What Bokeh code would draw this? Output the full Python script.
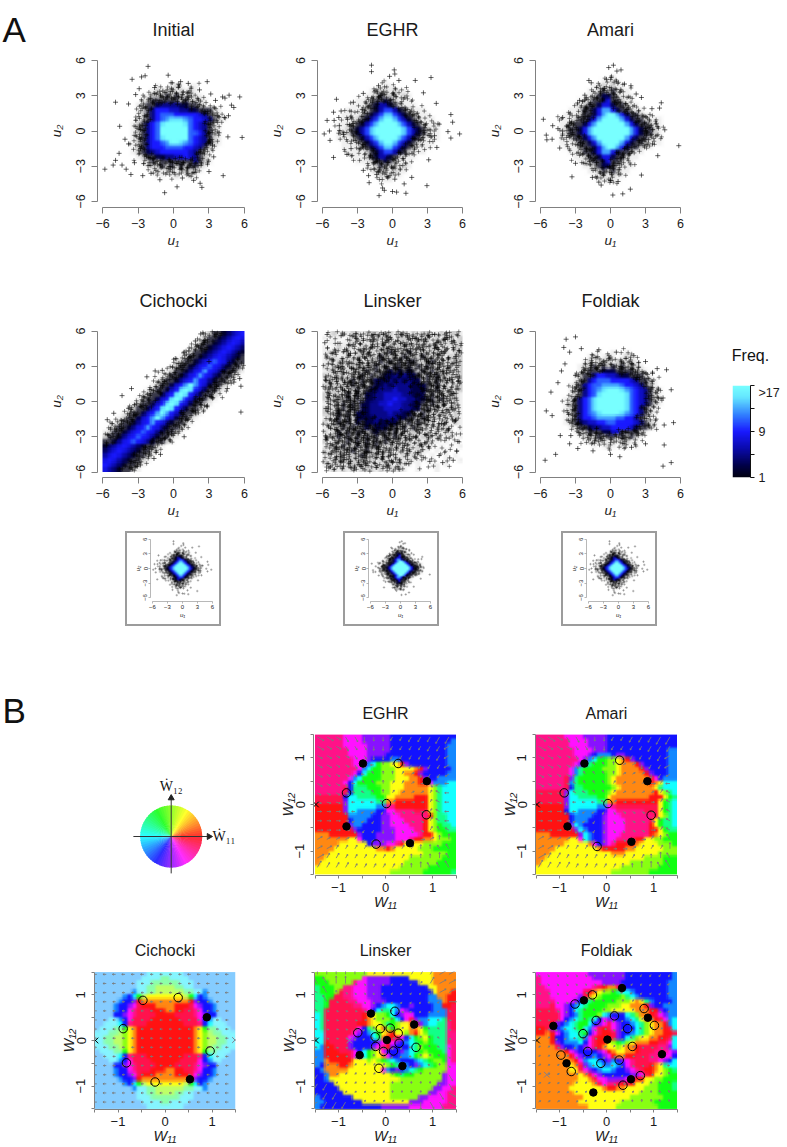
import colorsys
import numpy as np
from bokeh.embed import file_html
from bokeh.resources import INLINE
from bokeh.plotting import figure
from bokeh.layouts import row, column
from bokeh.models import Range1d, FixedTicker, Spacer, LinearColorMapper
from bokeh.core.properties import value

SANS = "Liberation Sans"
TITLES_A = ["Initial", "EGHR", "Amari", "Cichocki", "Linsker", "Foldiak"]
TITLES_B = ["EGHR", "Amari", "Cichocki", "Linsker", "Foldiak"]
U_TICKS = [-6, -3, 0, 3, 6]
W_TICKS = [-1.5, -1, -0.5, 0, 0.5, 1, 1.5]
FREQ_TICKS = [1, 5, 9, 13, 17]
FREQ_LABELS = {1: "1", 5: "", 9: "9", 13: "", 17: ">17"}
FREQ_STOPS = [1, 3, 6, 9, 12, 15, 17]
FREQ_RGB = [(0, 0, 16), (0, 0, 70), (10, 10, 170), (25, 25, 255), (50, 130, 255), (100, 230, 255), (120, 255, 255)]

# estimated density, one char per 0.4 x 0.4 cell, top row first
# '.' ':' sparse marks, 1-9 a-h frequency 1..17
dens_initial = [
"", "", "", "", "",
"           .  .:. ..",
"          .:.::.:.:.",
"         .:::1:1:::..",
"        .:111111:1:::.",
"       .:11355553311:.",
"       .:15999775533111:.",
"       .:159bbb99999751:.",
"       .:159bdfffdb99751:.",
"      .:159bfhhhhfb9751:.",
"      .:159bhhhhhhb9751:.",
"      .:159bhhhhhhbb951:.",
"      .:159bfhhhhhb9751:.",
"      .:1599bdhhfdb9751:.",
"      .:15999bbbb99751:.",
"      .:1357999999751:.",
"       .:113355779751:.",
"        .:1:111111151:.",
"         .::1:1:1:11:.",
"          .:.::.:::..",
"           .. .: .:.",
"", "", "", "", "",
]
dens_eghr = [
"", "", "", "",
"             .",
"            ...",
"          .:::.:..",
"         ..:1:::.:.",
"       ...:1121:...",
"      ...:126621:...",
"     ....:126aa621:...",
"    ....:126aeea621:...",
"    ...:126aehhea621:...",
"   ...:126aehhhhea621:...",
"   ..:126aehhhhhhea621:..",
"   ..:126aehhhhhhea621:..",
"   ...:126aehhhhea621:...",
"    ...:126aehhea621:...",
"    ....:126aeea621:...",
"     ....:126aa621:...",
"      ...:126621:...",
"       ...:1121:...",
"         ..:1:::.:.",
"          .:::.:..",
"           .:.:..",
"            ...",
"", "", "", "",
]
dens_amari = [
"", "", "",
"               .",
"             ..:.",
"           ..:.:..",
"          ..:1:1:..",
"         ..:1331:...",
"        ..:113811:..",
"       ..:11388311:..",
"      ..:1138dd8311:..",
"     ...:1138dhhd8311:..",
"    ...:1138dhhhhd8311:...",
"    ..:1138dhhhhhhd8311:..",
"    .:1138dhhhhhhhhd8311:.",
"    .:1138dhhhhhhhhd8311:.",
"    ..:1138dhhhhhhd8311:..",
"    ...:1138dhhhhd8311:...",
"     ...:1138dhhd8311:..",
"      ..:1138dd8311:..",
"       ..:11388311:..",
"        ..:113811:..",
"         ..:1331:...",
"          ..:1:1:..",
"           ..:.:..",
"            ..:..",
"", "", "", "",
]
dens_cichocki = [
"                     .:1124689",
"                    .:11246898",
"                   .:112468986",
"                  .:1124689864",
"                 .:11246898642",
"                .:112468986421",
"               .:112589b985211",
"              .:112589b985211:",
"             .:112589d985211:.",
"            .:112589d985211:.",
"           .:112589d985211:.",
"          .:11379dhd97311:.",
"         .:11379fhf97311:.",
"        .:11379fhf97311:.",
"       .:11379fhf97311:.",
"      .:11379fhf97311:.",
"     .:11379fhf97311:.",
"    .:11379dhd97311:.",
"   .:11379dhd97311:.",
"  .:112589d985211:.",
" .:112589d985211:.",
".:112589b985211:.",
":112589b985211:.",
"112589b985211:.",
"24689864211:.",
"4689864211:.",
"689864211:.",
"89864211:.",
"9864211:.",
"864211:.",
]
dens_linsker = [
" .:.:.::.:::.::.::.:.::..:.::.",
". .. ..:..:.:::.:::.:::.:.::.:",
" .. ..:.:.::.:::::.::::.::.:.:",
". .:.:..::.:::::::::.::::.:.::",
".:...:.::::.::1:::1:::.::::.::",
"..:..:.:::::1::::1:::1::::.:.:",
".:.:.:::.:::1:1:1:11:::1::::.:",
":.:::.:::::1:1:11:1:1:1:::.:.:",
".::.:::::1:1:1313131:1:1::::.:",
":.:::.::1:1:133535331:1:1:::.:",
".:::::1:1:13335353533:1:1:::.:",
":::.::1:1:1335355553331:1::.::",
".::::::1:13355575553331:1:::.:",
":.:::1:1:3355777755333:1:::.:.",
":::.:1:1:335577977553311:1:::.",
".:::1:1:33557797755331:1:::.:.",
":.::1:1:3355577775533:1:::.::.",
":::1:1:3335555755331:1:::.:.:.",
".::1:1:3333555553311:1:::.:.:.",
":.:1:1:3133533331:1:1:::.::.:.",
".:::1:1:13133311:1:1:::.:.:. .",
":.:1:1:11:1311:1:::::.:.:.:. .",
".::1:1:1:1:1:1:1::::.::.:..: .",
":.:::1:1:1:1:1:::::.:.:.. . . ",
".:::1::1:1:1:::::.:.:.:. . . .",
":.::::1::1:::::.:.:.:.. . .   ",
".:.:::::1:::::.:.:.:.. .  . . ",
":.:::::::::.:.:.:.:.. .   .  .",
".:.:.:::::.:.::.:.. .  .. .   ",
" .:.:.:.:::.:.:.:.  .   .     ",
]
dens_foldiak = [
"", "", "", "",
"            .  .  .",
"          .: .:. .:.",
"         .:.:::.::.:.",
"        .::1:1:1:1:::.",
"        .:1113331111::.",
"       .:1159977533111:.",
"       .:159bbb99997511:.",
"      .:159bbddddb99751:.",
"      .:159bdfhhhfdb9751:.",
"      .:159bfhhhhhfb9751:.",
"     .:159bfhhhhhhfb9751:.",
"     .:159bfhhhhhhfb9751:.",
"     .:159bfhhhhhhfb951:.",
"     .:159bdfhhhhfdb951:.",
"     .:1599bddddbb9951:.",
"     .:1357799bb9999751:.",
"      .:113557799997311:.",
"       .::11133771111:.",
"        .:::1:11:1:1:.",
"         .:.::.:.::..",
"           . .:. :. .",
"", "", "", "", "",
]

# marks drawn in each sparse cell, and where inside a cell they sit
MARKS_PER_CELL = {".": 1, ":": 3, "1": 3}
MARKS_PER_CELL_DENSE = {".": 1, ":": 3, "1": 4, "3": 2}
CELL_OFFSETS = [(-.12,.07),(.15,-.18),(.02,.24),(-.26,-.09),(.28,.14),(-.05,-.28),(.2,.3),(-.31,.22),(.09,-.06),(.33,-.27),(-.17,.33),(-.34,-.3),(.24,-.02),
                (.06,.17),(-.22,-.2),(.31,.03),(-.08,.36),(.13,-.33),(-.37,.05),(.36,.26),(-.14,-.13),(.27,-.12),(-.28,.3),(.04,-.16),(.18,.1),(-.02,.01),(-.19,.19),(.11,.35),(-.33,-.17)]

# estimated isolated marks (u1, u2)
pts_initial = [(-2.15,5.5),(-.45,4.75),(-3.5,4.4),(-2.7,4.6),(-2.4,4.7),(.6,4.2),(2.85,4.2),(-.2,4.1),(1.25,4.05),(-4.9,2.45),(-3.8,2.3),(-4.55,.4),(5.6,2.9),(4.7,3.05),(4.15,2.9),(4.35,2.8),(5.1,2),(4.9,2.2),(5.8,-.55),(4.6,-.5),(-5.8,-3.25),(-5.1,-2.9),(-4.9,-2.5),(-4.6,-1.9),(-4.35,-2.9),(-4,-3.25),(-3.6,-3.7),(-2.6,-3.8),(-1.9,-3.6),(-.75,-5.25),(.3,-4.75),(-1.15,-4.15),(.75,-4),(1.7,-4.2),(2.25,-4.45),(2.4,-4.8),(4.2,-3.8),(3,-3.45),(4.65,1.3),(4.3,1.15),(3.85,-.15),(3.7,1.3),(3.4,.75),(2.2,3.5),(3.55,2.6),(3.15,3.15),(-3.8,-1.1),(-4.1,-.7),(-3.2,3.1),(-2.9,3.6),(-1.6,3.7),(-.9,3.4),(1.9,-3.5),(-3.3,-2.7),(3.4,-2.2),(3.3,-1.2)]
pts_eghr = [(-1.8,5.6),(-1.8,5.05),(.15,5.2),(.2,4.85),(-.25,4.65),(3.3,4.55),(1.95,4.3),(.55,4.3),(-4.8,2.7),(-5.05,1.6),(-4.4,1.7),(-5.6,.9),(-5,.9),(-4.6,1.15),(-4.55,.45),(-5.85,-.25),(-5.4,0),(-5.35,-.8),(-5.05,-2.25),(-3.9,-2),(5,1.4),(5.15,.75),(4.75,-.05),(5.75,-.25),(5,-.6),(3.75,2.35),(2.95,-4.65),(-2,-4.4),(-1.15,-5.5),(-.85,-4.85),(-.7,-5.05),(0,-5.15),(.35,-5.2),(1.15,-5.3),(1,-4.5),(1.65,-3.95),(.2,-4.1),(-2.5,-3.35),(-2.05,-3.8),(-1.35,-3.7),(3.8,-1.4),(3.1,-2.45),(-3.55,-1.5),(-3.35,2.45),(-2.5,3.2),(-1.2,3.85),(2.65,3.25),(-3.85,1),(3.9,.6),(3.6,-.4),(-4.2,-.3)]
pts_amari = [(.25,5.6),(-.15,5.4),(.55,5.1),(.9,5.2),(-5.75,1),(-5.5,-.35),(-5.45,-.75),(-5,-.7),(-4.95,.45),(-4.35,-1.45),(-4.1,1.15),(-3.3,-3.9),(-3,-2.75),(-1.55,-3.95),(-1,-4.35),(-.8,-4.6),(.2,-5.45),(1.05,-5.35),(1.7,-4.95),(0,-4.2),(.65,-4.3),(2.65,-3.75),(4.05,-2.1),(5.85,-1.25),(4.35,2.4),(4.2,1.95),(3.55,1.9),(2.65,2.85),(4.65,.1),(-1.85,4.3),(-1.65,4.1),(-2.2,3.05),(-2.65,2.6),(-.35,4.4),(.05,4.55),(1.2,4),(1.75,3.85),(2.2,3.15),(3.9,.6),(3.6,-1.1),(-4.1,0),(-3.5,.75),(-4.5,.2)]
pts_foldiak = [(-3.8,5.3),(-3,5.5),(-4,4.6),(-3.5,4.2),(-2.5,4.5),(-1,4.4),(.5,4.2),(2,3.9),(3,3.4),(4,2.8),(4.8,2.7),(5.2,1),(4.5,.3),(3.9,-1.5),(4.6,-2),(-5,-1.2),(-5.6,-5),(-4.7,-4.5),(-5.5,-.8),(-5.1,.8),(-4.5,1.6),(-4.3,-2.9),(-3.5,-3.6),(-2.8,-4),(-1.5,-4.2),(0,-4.5),(.8,-4.7),(1.8,-3.9),(3,-3.6),(4.5,-5.5),(5.2,-5.2),(4.6,-3.7),(5.4,-1.8),(-3.9,3.2),(-4.2,2.6),(-3.4,-2.9),(3.6,2.4)]
pts_cichocki = [(5.7,-.9),(5.7,1.3),(5.6,1.95),(-3.55,1.1),(-4.35,.5),(-5.6,-1.55),(-5.05,-1),(-2.25,2.1),(-1.55,2.6),(-.95,2.65),(.9,4.2),(1.3,4.3),(2.3,5.75),(1.85,5.15),(2.6,5.2),(3,3.4),(.9,-3),(-1.1,-4.5),(-1.65,-4.85),(-2.8,-5.4),(2.85,-.45),(1.85,-.9),(4.55,1.1),(5.1,1.65),(.45,3.25),(.15,3.65),(-4.4,-1.9),(-3.1,-.2),(-.7,-3.1),(3.6,1.6),(-2,1),(2.2,.2)]
pts_linsker = [(-5.6,5.7),(-5.8,5),(-4.4,5.6),(-3.2,5.5),(-2.5,5.2),(-1.5,5.7),(-.4,5.5),(.8,5.7),(2,5.4),(3.4,5.7),(4.5,5.3),(5.6,5.6),(5.2,4.6),(3.8,4.6),(2.4,4.4),(1,4.7),(-.8,4.4),(-2,4.2),(-3.6,4.1),(-4.9,4.3),(-5.5,3.2),(-4.6,2.9),(-3.5,2.8),(-2.6,3.3),(-1.4,3.2),(.4,3.5),(1.8,3.3),(3.1,3.4),(4.4,3),(5.5,3.3),(5.7,2),(4.7,1.8),(3.6,2.3),(-5.7,1.8),(-4.7,1.5),(-3.6,1.6),(-5.4,.5),(-4.3,.3),(-3.1,.7),(4.2,.6),(5.2,.7),(3.3,1),(-5.7,-.6),(-4.6,-.9),(-3.4,-.5),(3.5,-.4),(4.6,-.7),(5.6,-.3),(-5.2,-1.9),(-4,-1.7),(3.1,-1.6),(4.2,-1.9),(5.4,-1.6),(-5.7,-3),(-4.5,-2.8),(-3.2,-3.1),(-1.6,-3.4),(.3,-3.2),(2,-3),(3.4,-2.9),(4.6,-3.1),(5.6,-3.4),(-5.1,-4.2),(-3.9,-4.1),(-2.4,-4.4),(-.8,-4.3),(.9,-4.2),(2.6,-4.1),(4,-4.6),(-5.6,-5.3),(-4.2,-5.5),(-2.8,-5.4),(-1.4,-5.6),(0,-5.2),(1.4,-5.3),(3.2,-5.1),(4.3,-5.2),(4.9,-4.8),(5.2,-5),(5.5,-4.2)]

# estimated direction hue of the field, one char per 0.1 x 0.1 cell, top row first
hue_eghr = [
"ppppppmmmmvvvvvvbbbbbbbbbbbbbb",
"ppppppmmmmvvvvvvbbbbbbbbbbbbba",
"ppppppmmmmmvvvvvbbbbbbbbbbbbaa",
"pppppppmmmmvvvvvbbbbbbbbbbbbaa",
"pppppppmmmmvvvvbbbbbbbbbbbbbaa",
"ppppppppmmmvbbbbaabbbbbbbbbbaa",
"ppppppppmmvacgllyyrvbbbbbbbbaa",
"pppppppppmacgglllyyyyorvbbbbba",
"ppppppppmbcggglllyyoorvbbbbbaa",
"pppppppmacgggglllyyyoorvbbaaaa",
"ppppppmbcgggglllyyyooorrmaaacc",
"ppppppqbsssgggllyyyoooooylsccc",
"ppppppqbssssggllyyooooooylsccc",
"qqqqqqbccssssggyyoooorrrylsccc",
"qqqqqqvccccccssoorrrrrrrylsccc",
"rrrrrrvccccccaapprrrrrrrylsccc",
"rrrrrrvccaaaabbmmppppqqqylsccc",
"rrrrrrraaaaabbvvmmpppppprlsscc",
"rrrrrrrbaaabbbvvmmmpppprylsscc",
"rrrrrrrvaabbbbvvmmmmppprylgssc",
"rrrrrrrrvbbbbbvvvmmmmpprylggss",
"ooorrrrrrvbbbvvvvmmmmmprrylgggs",
"oooooooyymbbbvvvvmmmprrooylllgg",
"oooooyyyyyybvvvmmpryyyyllllggg",
"ooooyyyyyyyyyooroyyyyylllggggg",
"oooyyyyyyyyyyyyyyyyyyyylllllggg",
"ooyyyyyyyyyyyyyyyyyylllllllggg",
"oyyyyyyyyyyyyyyyyyylllllllgggg",
"yyyyyyyyyyyyyyyyyyllllllgggggg",
"yyyyyyyyyyyyyyyylllllllggggggs",
]
hue_amari = [
"ppppppmmmmvvvvvbbbbbbbbbbbbbbb",
"pppppppmmmmvvvvbbbbbbbbbbbbbbb",
"pppppppmmmmvvvvbbbbbbbbbbbbbbb",
"ppppppppmmmmvvvbbbbbbbbbbbbbaa",
"ppppppppmmmvbaaabvvbbbbbbbbbaa",
"pppppppppmvacggllyorvbbbbbbbaa",
"ppppppppmvasgggllyooorvbbbbbaa",
"pppppppmasgggglllyoooorvbbbbaa",
"pppppppmasgggggllyooooorvbbbaa",
"ppppppqvsgggggglyooooooormbaaa",
"ppppppqasgggggglyoooooooroyccc",
"ppppppqbssgggggglyoooooooyscc",
"qqqqqqvcsssgggglyoooooooorylsc",
"qqqqqqvccssssggyoooooooorrrygsc",
"qqqqqqvccccccssoorrrrrrrrrygsc",
"rrrrrrvccccccaampqqqqqqqqqygsc",
"rrrrrrbccaaaabbmmppppppqqqygsc",
"rrrrrrrbaaaabbvmmmpppppppqylsc",
"rrrrrrrbaaabbbvmmmmpppppqygssc",
"rrrrrrrvcabbbbvmmmmpppppryg"+"ssc",
"rrrrrrrrvcabbbvmmmmppppprrygsss",
"ooorrrrrrvcabbvmmmpppppproylggs",
"oooooooyymcabbvmmpppqrryyllggg",
"ooooooyyyyyombvmprrrroyyyylllg",
"ooooyyyyyyyyyorrrrrooyyyyyylll",
"oooyyyyyyyyyyyyyoooyyyyyyyllll",
"ooyyyyyyyyyyyyyyyyyyyyyllllggg",
"oyyyyyyyyyyyyyyyyyyylllllllggg",
"yyyyyyyyyyyyyyyyyyllllllllgggg",
"yyyyyyyyyyyyyyyyllllllllgggggg",
]
hue_cichocki = [
"AAAAAAAAAAACCCCCCCCAAAAAAAAAAA",
"AAAAAAAAAACCCCGGCCCCAAAAAAAAAA",
"AAAAAAAAACCCGGGGGGCCCAAAAAAAAA",
"AAAAAAAAACCGGLLLLGGCCAAAAAAAAA",
"AAAAAAAAaCCGGLLLLLLGGCCaAAAAAA",
"AAAAAAabcgLyyyyyyyyLgcbaAAAAAA",
"AAAAAabbvroooooooooorvbbaAAAAA",
"AAAAabbvmqrrroooorrrqmvbbaAAAA",
"AAAAabbmpqqqrrroorrqqpmbbaAAAA",
"AAAAbbvmpqqqqrrrrqqqqpmvbbAAAA",
"AAACCabmqqqqrrrrrrqqqqmbaCCAAA",
"AACCCcbpqqqrrrrrrrrqqqpbcCCCAA",
"ACCCGGgyorrrrrrrrrrrroygGGCCCA",
"CCCGGLlyorrrrrrrrrrrroylLGGCCC",
"CCGGLLlyorrrrrrrrrrrroylLLGGCC",
"CCGGLLlyorrrrrrrrrrrroylLLGGCC",
"CCCGGLlyorrrrrrrrrrrroylLGGCCC",
"ACCCGGgyorrrrrrrrrrrroygGGCCCA",
"AACCCcbpqqqrrrrrrrrqqqpbcCCCAA",
"AAACCabmqqqqrrrrrrqqqqmbaCCAAA",
"AAAAbbvmpqqqqrrrrqqqqpmvbbAAAA",
"AAAAabbmpqqqrrroorrqqpmbbaAAAA",
"AAAAabbvmqrrroooorrrqmvbbaAAAA",
"AAAAAabbvroooooooooorvbbaAAAAA",
"AAAAAAabcgLyyyyyyyyLgcbaAAAAAA",
"AAAAAAAAaCCGGLLLLLLGGCCaAAAAAA",
"AAAAAAAAACCGGLLLLGGCCAAAAAAAAA",
"AAAAAAAAACCCGGGGGGCCCAAAAAAAAA",
"AAAAAAAAAACCCCGGCCCCAAAAAAAAAA",
"AAAAAAAAAAACCCCCCCCAAAAAAAAAAA",
]
hue_linsker = [
"lllllllllllyyyyyyyyyyyyyyooooo",
"ggllllllllmvvvvvbbbbyyyyyooooo",
"ggglllllpmmvvvvvbbbbbbyyyooooo",
"sgggllppmmmvvvbbbbbbbbbbyyoooo",
"sgggl"+"qppmmmvvvbbbbbbbbbbbyooor",
"ssgg"+"qqppmmmvvvbbbbbbbbbbaaoorr",
"ssg"+"qqqqppmmmvvvbbbbbbbbbaaaorr",
"ssg"+"qqqqqppmmvbaccabbvbbbbaarrq",
"ss"+"qqqqqqqqpmbcssca"+"mvbbbbbaaaqq",
"cs"+"qqqqqqqqroyllgc"+"bvmmbbbaaaaqq",
"cs"+"qqqqqqqqroylllgcbmqvaacccsqq",
"cs"+"qqqqqqqrroyylsglyyorvaccsspq",
"cs"+"qqqqqqqmbslyolglyyooyg"+"sssspq",
"cc"+"qqqqqqmvbacgyoryyloryl"+"sssspp",
"cc"+"qqqqqmvbbbcsorrqmbcgly"+"gssspp",
"cc"+"rqqqqvbbbbbvmqmvbacsgl"+"gssspp",
"ca"+"rrqqqvbbbbvmprvbbbcslg"+"ggssmp",
"aa"+"rrrqqqmbcglymbbbvacsgl"+"gggsmp",
"aa"+"rrrrrqmbcglyombbaacglyl"+"gggmp",
"aa"+"orrrrryyylylgscabbbacsgll"+"gmp",
"ab"+"ooorroyyyyyyylgscabvacsgll"+"mm",
"ba"+"oooooyyyyyyymabvbacsgll"+"lllmm",
"bba"+"ooyyyyyyyyyyylgsgglll"+"lllvmm",
"bba"+"yyyyyyyyyyyyyyylllllllllvmm",
"bbbb"+"yyyyyyyyyyyyllllllllllvvmm",
"bbbbb"+"yyyyyyyyyyylllllllllvvmmp",
"bbbbbb"+"yyyyyyyyyyllllllllvvmmpp",
"abbbbbbb"+"yyyyyyyy"+"llllll"+"vvmmmmpp",
"aabbbbbbbb"+"yyyyyyyyyyvvvmmmmmpp",
"abbbbbbbbbbbbbvvvvvvmmmmmmmppp",
]
hue_foldiak = [
"mmmmmmmmmmmvvvvvvvvbbbbbbbbbba",
"pmmmmmmmmmmmvvvvvvvbbbbbbbbbba",
"pmmmmmmmmmmmmmvvvvbbbbbbbbbbaa",
"ppmmmmmmmmmmpqrooqvbbbbbbbbbaa",
"pppmmmmmmmqroyllgsccabbbbbbbaa",
"pppmmmmmmvqoylggggl"+"scabbbbbbaa",
"ppppmmmmvbcsggggglllyoysabbbba",
"pppqmmvbacsgggglllyyooorvbbaaa",
"qqqqpmvbcsggggllyyyyyooorrvbaaa",
"qqqqqmvbasggglcabbbcsloorqmvaa",
"qqqqqmbacsgscbmvvbbacsyoorqmac",
"qqqrvbacsggcbvmqmvbbacslyoorac",
"rrqvbaccsgcamqrqmvbbbcslyoorqc",
"rrormbaccsgbmqrrqvbbacslyoorrqc",
"ooorbbacc"+"samqrrrqvbcslyyoorrqc",
"ooorvbaaacbmqrrylgslyooorrqqmc",
"ooooqvbbabvmqroyylyoorqqqqppvc",
"oooooormvbbbbvmroyyoorqqqppp"+"mvc",
"ooooooormvbbabvmroorrqqqpppmmbc",
"oooooooormaccabvabvmpqqqppmvbc",
"oooooooyoqvaccaacabmpqqqroyscc",
"oooooooyyqmvbaccabbvmpqrroylgsc",
"oooooooooyoqmvbbbbbbvvmqryylggss",
"oooooooooyyoqmmvvvvmprryyllgggs",
"ooooooooyyyyoqmppqrqryyyllgggs",
"oooooooyyyyyyyorroo"+"yyyylllgggs",
"ooooooooyyyyyyyyyyyyyyllllgggg",
"ooooooooooyyyyyyyyyylllllllggg",
"oooooooooyyyyyyyyylllllllggggg",
"oooooooooooyyyyyylllllllllgggg",
]

# estimated equilibria (W11, W12)
eq_filled = {
    "EGHR": [(-.48,.88),(.88,.5),(-.83,-.47),(.52,-.83)],
    "Amari": [(-.47,.88),(.87,.5),(-.83,-.47),(.53,-.8)],
    "Cichocki": [(.89,.51),(.53,-.85)],
    "Linsker": [(-.31,.59),(.61,.35),(.03,.01),(-.55,-.32),(.36,-.56)],
    "Foldiak": [(.33,1.15),(-.48,.88),(-1.13,.32),(-.85,-.5),(-.28,-1.14),(.52,-.85),(1.18,-.3),(.88,.5),(.02,.02)],
}
eq_open = {
    "EGHR": [(.27,.88),(-.83,.25),(.87,-.22),(-.2,-.85),(.02,.02)],
    "Amari": [(.28,.95),(-.9,.25),(.95,-.23),(-.2,-.9),(.03,.02)],
    "Cichocki": [(-.47,.88),(.28,.94),(-.89,.26),(.96,-.23),(-.82,-.49),(-.21,-.91)],
    "Linsker": [(.2,.64),(-.59,.17),(-.11,.26),(.1,.27),(.27,.16),(-.22,.08),(.29,-.06),(-.21,-.13),(-.04,-.24),(.17,-.23),(.65,-.15),(-.14,-.61)],
    "Foldiak": [(-.3,1.0),(-.67,.8),(-.97,-.32),(-.75,-.68),(.35,-.98),(.72,-.77),(1.02,.33),(.8,.7),(.17,.54),(-.22,.44),(-.5,.15),(-.4,-.24),(-.12,-.5),(.27,-.43),(.55,-.13),(.45,.26)],
}
eq_cross_black = {"EGHR": [(-1.48,0)], "Amari": [(-1.48,0)], "Cichocki": [(-1.48,0)], "Linsker": [(-1.48,0)], "Foldiak": [(-1.48,0)]}
eq_cross_grey = {"Cichocki": [(1.49,.01)], "Linsker": [(-.77,0)], "Foldiak": [(-1.27,-.75)]}

# arrow length read per distance band from the centre: <1, <1.5, <2, beyond
arrow_len = {
    "EGHR": [.07,.09,.12,.16], "Amari": [.07,.09,.13,.18], "Cichocki": [.06,.06,.07,.07],
    "Linsker": [.05,.05,.16,.24], "Foldiak": [.05,.05,.06,.06],
}
arrow_fixed_angle = {"Cichocki": 180.0}

HUES = dict(r=0, o=30, y=60, l=90, g=120, s=150, c=180, a=210, b=240, v=270, m=300, p=330, q=345)
PALE = dict(A=(205,.48), C=(185,.48), G=(135,.45), L=(85,.6))

def hue_rgb(ch):
    if ch in PALE:
        h, s = PALE[ch]
    else:
        h, s = HUES[ch], .93
    return tuple(int(round(255*c)) for c in colorsys.hsv_to_rgb(h/360, s, 1))

def hue_angle(ch):
    return PALE[ch][0] if ch in PALE else HUES[ch]

def norm_hue(rows):
    return [(r + r[-1]*30)[:30] for r in rows]

def freq_rgb(f):
    return tuple(int(round(np.interp(f, FREQ_STOPS, [c[k] for c in FREQ_RGB]))) for k in range(3))

CODES = "123456789abcdefgh"
SPARSE_RGB = {" ": (255,255,255), ".": (240,240,240), ":": (205,205,205), "1": (60,60,75)}

def dens_rgb(ch):
    return SPARSE_RGB[ch] if ch in SPARSE_RGB else freq_rgb(CODES.index(ch)+1)

def to_rgba(rgb, passes=2):
    # display resampling only: the painted fields in the reference are soft, not blocky
    a = np.kron(rgb.astype(float), np.ones((4, 4, 1)))
    for _ in range(passes):
        b = a.copy()
        b[1:-1] = a[:-2]*.25 + a[1:-1]*.5 + a[2:]*.25
        c = b.copy()
        c[:, 1:-1] = b[:, :-2]*.25 + b[:, 1:-1]*.5 + b[:, 2:]*.25
        a = c
    a = a.astype(np.uint32)
    return (255 << 24) | (a[..., 2] << 16) | (a[..., 1] << 8) | a[..., 0]

def dens_image(rows):
    g = [r.ljust(30)[:30] for r in rows]
    arr = np.array([[dens_rgb(c) for c in r] for r in g], dtype=np.uint8)
    return to_rgba(arr[::-1]).astype(np.uint32)

def sparse_marks(rows, per_cell):
    xs, ys = [], []
    n = 0
    for r, line in enumerate(rows):
        for c, ch in enumerate(line.ljust(30)[:30]):
            for _ in range(per_cell.get(ch, 0)):
                dx, dy = CELL_OFFSETS[n % len(CELL_OFFSETS)]
                n += 11
                mx, my = -5.8+.4*c+dx, 5.8-.4*r+dy
                if abs(mx) <= 5.95 and abs(my) <= 5.95:
                    xs.append(mx)
                    ys.append(my)
    return xs, ys

def hue_image(rows):
    arr = np.array([[hue_rgb(c) for c in r] for r in norm_hue(rows)], dtype=np.uint8)
    return to_rgba(arr[::-1]).astype(np.uint32)

def base_fig(w, h, xr, yr, left, right, top, bottom, **kw):
    p = figure(width=w, height=h, x_range=Range1d(*xr), y_range=Range1d(*yr),
               toolbar_location=None, output_backend="svg", frame_align=False,
               min_border_left=left, min_border_right=right, min_border_top=top, min_border_bottom=bottom, **kw)
    p.grid.visible = False
    p.outline_line_color = None
    return p

def text_fig(w, h, text, x, y, size, align="left", baseline="alphabetic"):
    # a small figure whose data units are its own pixels, holding one text
    p = base_fig(w, h, (0, w), (h, 0), 0, 0, 0, 0, x_axis_location=None, y_axis_location=None)
    p.text([x], [y], text=[text], text_font=value(SANS), text_font_size=size, text_color="#111111",
           text_align=align, text_baseline=baseline)
    return p

def style_axis(ax, ticks, labels, label, bounds, tfs, lfs, tick, tstand, lstand, vertical=False, color="#808080", lw=1):
    ax.ticker = FixedTicker(ticks=ticks)
    ax.major_label_overrides = labels
    ax.bounds = bounds
    ax.axis_line_color = color
    ax.axis_line_width = lw
    ax.major_tick_line_color = color
    ax.major_tick_line_width = lw
    ax.major_tick_out = tick
    ax.major_tick_in = 0
    ax.minor_tick_line_color = None
    ax.major_label_text_font = SANS
    ax.major_label_text_font_size = tfs
    ax.major_label_text_color = "#1a1a1a"
    ax.major_label_standoff = tstand
    ax.axis_label = label
    ax.axis_label_text_font = SANS
    ax.axis_label_text_font_style = "italic"
    ax.axis_label_text_font_size = lfs
    ax.axis_label_text_color = "#1a1a1a"
    ax.axis_label_standoff = lstand
    if vertical:
        ax.major_label_orientation = "vertical"

U_LABELS = {t: str(t).replace("-", "\u2212") for t in U_TICKS}
W_LABELS = {-1.5: "", -1: "\u22121", -0.5: "", 0: "0", 0.5: "", 1: "1", 1.5: ""}

def scatter_panel(title, grid, pts, w, h, left, right, top, bottom, per_cell=MARKS_PER_CELL):
    fw = w-left-right
    fh = h-top-bottom
    hx = (fw/2)/11.83
    hy = (fh/2)/11.75
    p = base_fig(w, h, (-hx, hx), (-hy, hy), left, right, top, bottom)
    p.title.text = title
    p.title.text_font = SANS
    p.title.text_font_size = "18px"
    p.title.text_font_style = "normal"
    p.title.text_color = "#1a1a1a"
    p.title.align = "center"
    p.title.standoff = 30
    p.image_rgba(image=[dens_image(grid)], x=-6, y=-6, dw=12, dh=12)
    mx, my = sparse_marks(grid, per_cell)
    p.scatter(mx, my, marker="cross", size=4.5, line_color="#000000", line_alpha=.45, line_width=1)
    p.scatter([a for a, b in pts], [b for a, b in pts], marker="cross", size=5, line_color="#000000", line_alpha=.6, line_width=1)
    style_axis(p.xaxis[0], U_TICKS, U_LABELS, "u\u2081", (-6, 6), "12.5px", "13.5px", 6, 5, 2)
    style_axis(p.yaxis[0], U_TICKS, U_LABELS, "u\u2082", (-6, 6), "12.5px", "13.5px", 6, 7, 9, vertical=True)
    return p

def inset_panel(grid, pts):
    w, h = 92, 91
    left, right, top, bottom = 23, 5, 2, 23
    p = base_fig(w, h, (-6.4, 6.4), (-6.8, 6.8), left, right, top, bottom)
    p.image_rgba(image=[dens_image(grid)], x=-6, y=-6, dw=12, dh=12)
    mx, my = sparse_marks(grid, MARKS_PER_CELL)
    p.scatter(mx, my, marker="cross", size=2.5, line_color="#000000", line_alpha=.4, line_width=.5)
    p.scatter([a for a, b in pts], [b for a, b in pts], marker="cross", size=2.5, line_color="#000000", line_alpha=.5, line_width=.5)
    style_axis(p.xaxis[0], U_TICKS, U_LABELS, "u\u2081", (-6, 6), "6px", "6px", 2, 1, 0, color="#999999", lw=.7)
    style_axis(p.yaxis[0], U_TICKS, U_LABELS, "u\u2082", (-6, 6), "6px", "6px", 2, 1, 0, vertical=True, color="#999999", lw=.7)
    return column(p, styles={"border": "2px solid #9c9c9c"})

def field_panel(title, rows, w, h, left, right, top, bottom, standoff):
    fw = w-left-right
    fh = h-top-bottom
    hx = (fw/2)/47
    hy = (fh/2)/46.6
    p = base_fig(w, h, (-hx, hx), (-hy, hy), left, right, top, bottom)
    p.title.text = title
    p.title.text_font = SANS
    p.title.text_font_size = "16px"
    p.title.text_font_style = "normal"
    p.title.text_color = "#1a1a1a"
    p.title.align = "center"
    p.title.standoff = standoff
    p.image_rgba(image=[hue_image(rows)], x=-1.5, y=-1.5, dw=3, dh=3)
    g = norm_hue(rows)
    x0, y0, x1, y1 = [], [], [], []
    for r in range(0, 30, 2):
        for c in range(0, 30, 2):
            x = -1.45+.1*c
            y = 1.45-.1*r
            d = np.hypot(x, y)
            ln = arrow_len[title][0 if d < 1 else 1 if d < 1.5 else 2 if d < 1.85 else 3]
            ang = np.radians(arrow_fixed_angle.get(title, hue_angle(g[r][c])))
            ex, ey = x+ln*np.cos(ang), y+ln*np.sin(ang)
            x0.append(x); y0.append(y); x1.append(ex); y1.append(ey)
            for da in (2.6, -2.6):
                x0.append(ex); y0.append(ey)
                x1.append(ex+.035*np.cos(ang+da)); y1.append(ey+.035*np.sin(ang+da))
    p.segment(x0, y0, x1, y1, line_color="#7a7a7a", line_alpha=.85, line_width=1)
    f = eq_filled[title]
    o = eq_open[title]
    p.scatter([a for a, b in f], [b for a, b in f], marker="circle", size=7.5, fill_color="black", line_color="black")
    p.scatter([a for a, b in o], [b for a, b in o], marker="circle", size=8.5, fill_color=None, line_color="black", line_width=1)
    xb = eq_cross_black[title]
    p.scatter([a for a, b in xb], [b for a, b in xb], marker="x", size=8, line_color="black", line_width=1)
    if title in eq_cross_grey:
        xg = eq_cross_grey[title]
        p.scatter([a for a, b in xg], [b for a, b in xg], marker="x", size=8, line_color="#808090", line_width=1)
    style_axis(p.xaxis[0], W_TICKS, W_LABELS, "W\u2081\u2081", (-1.5, 1.5), "13px", "14.5px", 3, 4, -1)
    style_axis(p.yaxis[0], W_TICKS, W_LABELS, "W\u2081\u2082", (-1.5, 1.5), "13px", "14.5px", 3, 6, -3, vertical=True)
    return p

# ---- band 1
letter_a = text_fig(45, 270, "A", 2, 29, "35px")
a1 = scatter_panel(TITLES_A[0], dens_initial, pts_initial, 220, 270, 52, 16, 54, 63)
a2 = scatter_panel(TITLES_A[1], dens_eghr, pts_eghr, 218, 270, 50, 16, 54, 63)
a3 = scatter_panel(TITLES_A[2], dens_amari, pts_amari, 218, 270, 50, 16, 54, 63)
band1 = row(letter_a, a1, a2, a3)

# ---- band 2
a4 = scatter_panel(TITLES_A[3], dens_cichocki, pts_cichocki, 265, 250, 97, 16, 55, 43)
a5 = scatter_panel(TITLES_A[4], dens_linsker, pts_linsker, 218, 250, 50, 16, 55, 43, per_cell=MARKS_PER_CELL_DENSE)
a6 = scatter_panel(TITLES_A[5], dens_foldiak, pts_foldiak, 218, 250, 50, 16, 55, 43)

freq_title = text_fig(86, 115, "Freq.", 49, 85, "16px", align="center", baseline="middle")
cb = base_fig(86, 135, (0, 1), (1, 17), 31, 37, 0, 43, x_axis_location=None, y_axis_location="right")
freq_col = np.array(np.linspace(1, 17, 128)).reshape(-1, 1)
cb.image(image=[freq_col], x=0, y=1, dw=1, dh=16,
         color_mapper=LinearColorMapper(palette=["#%02x%02x%02x" % freq_rgb(f) for f in np.linspace(1, 17, 128)], low=1, high=17))
style_axis(cb.yaxis[0], FREQ_TICKS, FREQ_LABELS, "", (1, 17), "12.5px", "12px", 4, 4, 0, color="#111111")
band2 = row(a4, a5, a6, column(freq_title, cb))

# ---- band 3
band3 = column(Spacer(width=10, height=11),
               row(Spacer(width=125, height=95), inset_panel(dens_eghr, pts_eghr),
                   Spacer(width=122, height=95), inset_panel(dens_amari, pts_amari),
                   Spacer(width=122, height=95), inset_panel(dens_eghr, pts_eghr)),
               Spacer(width=10, height=14))

# ---- band 4
letter_b = text_fig(45, 285, "B", 2, 70, "35px")
wheel = base_fig(218, 285, (-50.7/31, 92.3/31), (-44/31, 66/31), 75, 0, 130, 45, x_axis_location=None, y_axis_location=None)
sector_hue = list(range(0, 360, 5))
wheel.wedge(x=0, y=0, radius=1, radius_units="data",
            start_angle=[np.radians(h-3.5) for h in sector_hue], end_angle=[np.radians(h+3.5) for h in sector_hue],
            fill_color=["#%02x%02x%02x" % tuple(int(255*c) for c in colorsys.hsv_to_rgb(h/360, .82, 1)) for h in sector_hue],
            line_color=None)
wheel.segment([-1.22, 0], [0, -1.19], [1.21, 0], [0, 1.22], line_color="#333333", line_width=1)
wheel.scatter([1.22], [0], marker="triangle", size=6, angle=-np.pi/2, color="#222222")
wheel.scatter([0], [1.24], marker="triangle", size=6, color="#222222")
wheel.text([0], [1.62], text=["\u1e86\u2081\u2082"], text_font=value("Liberation Serif"),
           text_font_size="14px", text_align="center", text_baseline="middle", text_color="#111111")
wheel.text([1.33], [0], text=["\u1e86\u2081\u2081"], text_font=value("Liberation Serif"),
           text_font_size="14px", text_align="left", text_baseline="middle", text_color="#111111")
b1 = field_panel(TITLES_B[0], hue_eghr, 222, 285, 50, 28, 93, 50, 24)
b2 = field_panel(TITLES_B[1], hue_amari, 222, 285, 50, 30, 93, 50, 24)
band4 = row(letter_b, wheel, b1, b2)

# ---- band 5
b3 = field_panel(TITLES_B[2], hue_cichocki, 264, 221, 94, 29, 46, 34, 26)
b4 = field_panel(TITLES_B[3], hue_linsker, 221, 221, 50, 29, 46, 34, 26)
b5 = field_panel(TITLES_B[4], hue_foldiak, 221, 221, 50, 29, 46, 34, 26)
band5 = row(b3, b4, b5)

root = column(band1, band2, band3, band4, band5)
open("out.html", "w").write(file_html(root, INLINE))
